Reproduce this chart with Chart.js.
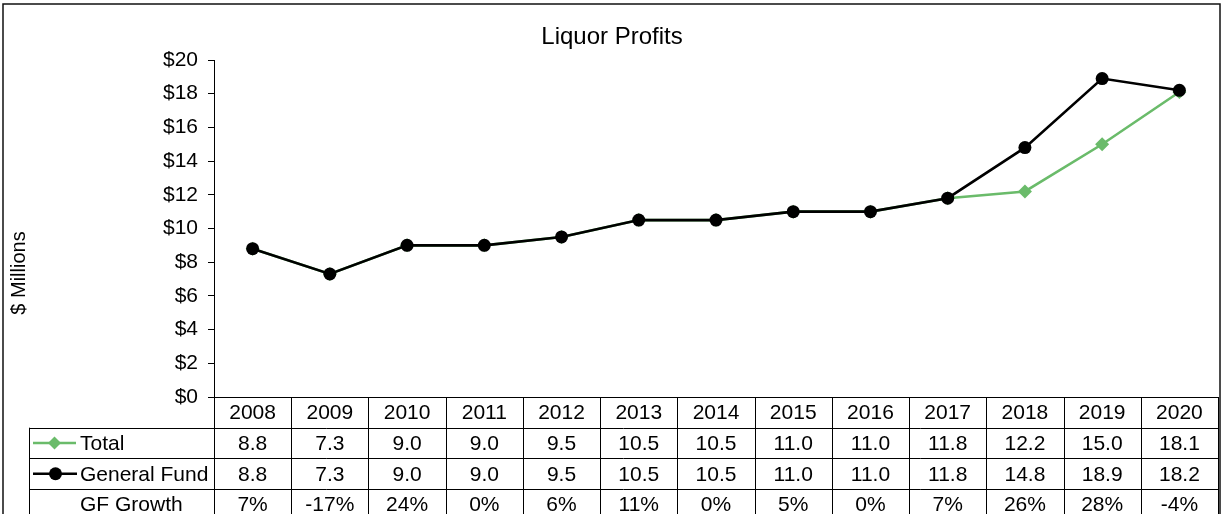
<!DOCTYPE html>
<html>
<head>
<meta charset="utf-8">
<title>Liquor Profits</title>
<script src="https://cdn.jsdelivr.net/npm/chart.js@4.4.1/dist/chart.umd.min.js"></script>
<style>
  html, body { margin: 0; padding: 0; background: #ffffff; }
  #wrap { position: relative; width: 1225px; height: 514px; }
</style>
</head>
<body>
<div id="wrap"><canvas id="chart" width="1225" height="514"></canvas></div>
<script>
// Liquor profits by fiscal year, $ millions
const years = ['2008', '2009', '2010', '2011', '2012', '2013', '2014', '2015', '2016', '2017', '2018', '2019', '2020'];
const totalProfits = [8.8, 7.3, 9.0, 9.0, 9.5, 10.5, 10.5, 11.0, 11.0, 11.8, 12.2, 15.0, 18.1];
const generalFund = [8.8, 7.3, 9.0, 9.0, 9.5, 10.5, 10.5, 11.0, 11.0, 11.8, 14.8, 18.9, 18.2];
const gfGrowth = ['7%', '-17%', '24%', '0%', '6%', '11%', '0%', '5%', '0%', '7%', '26%', '28%', '-4%'];
const yMin = 0;
const yMax = 20;
const yStep = 2;

const FONT = '"Liberation Sans", Arial, sans-serif';
const GREEN = '#6abb6a';
const BLACK = '#000000';

// Excel-style data table under the plot, plus frame, title and axis caption
const dataTablePlugin = {
    id: 'dataTable',
    afterDraw(chart) {
        const ctx = chart.ctx;
        const area = chart.chartArea;
        const xScale = chart.scales.x;
        const colW = (area.right - area.left) / years.length;
        const rowH = 30.7;
        const legendLeft = 29;
        const tableBottom = chart.height + 10;

        ctx.save();

        // outer frame
        ctx.strokeStyle = '#111';
        ctx.lineWidth = 1.5;
        ctx.strokeRect(3, 4, 1217, chart.height + 20);

        // title
        ctx.fillStyle = '#000';
        ctx.font = '24px ' + FONT;
        ctx.textAlign = 'center';
        ctx.textBaseline = 'middle';
        ctx.fillText('Liquor Profits', 612, 37);

        // y axis caption, centred on plot + table
        ctx.save();
        ctx.translate(19, 273);
        ctx.rotate(-Math.PI / 2);
        ctx.font = '20px ' + FONT;
        ctx.fillText('$ Millions', 0, 0);
        ctx.restore();

        // grid
        ctx.strokeStyle = '#000';
        ctx.lineWidth = 1;
        ctx.beginPath();
        ctx.moveTo(area.left, area.bottom + 0.5);
        ctx.lineTo(area.right, area.bottom + 0.5);
        for (let r = 1; r <= 3; r++) {
            const y = Math.round(area.bottom + r * rowH) + 0.5;
            ctx.moveTo(legendLeft, y);
            ctx.lineTo(area.right, y);
        }
        for (let i = 0; i <= years.length; i++) {
            const x = Math.round(xScale.getPixelForValue(i) - colW / 2) + 0.5;
            ctx.moveTo(x, area.bottom);
            ctx.lineTo(x, tableBottom);
        }
        ctx.moveTo(legendLeft + 0.5, area.bottom + rowH);
        ctx.lineTo(legendLeft + 0.5, tableBottom);
        ctx.stroke();

        // cell text
        ctx.font = '21px ' + FONT;
        ctx.textAlign = 'center';
        const rows = [
            years,
            totalProfits.map(v => v.toFixed(1)),
            generalFund.map(v => v.toFixed(1)),
            gfGrowth,
        ];
        rows.forEach((cells, r) => {
            const y = area.bottom + r * rowH + rowH / 2 + 1;
            cells.forEach((txt, i) => {
                ctx.fillText(txt, xScale.getPixelForValue(i), y);
            });
        });

        // row headers with series keys
        ctx.textAlign = 'left';
        const keyY1 = area.bottom + rowH * 1.5;
        const keyY2 = area.bottom + rowH * 2.5;

        ctx.lineWidth = 2.5;
        ctx.strokeStyle = GREEN;
        ctx.beginPath();
        ctx.moveTo(33, keyY1);
        ctx.lineTo(76, keyY1);
        ctx.stroke();
        ctx.fillStyle = GREEN;
        ctx.beginPath();
        ctx.moveTo(54.5, keyY1 - 6.5);
        ctx.lineTo(61, keyY1);
        ctx.lineTo(54.5, keyY1 + 6.5);
        ctx.lineTo(48, keyY1);
        ctx.closePath();
        ctx.fill();

        ctx.strokeStyle = BLACK;
        ctx.beginPath();
        ctx.moveTo(33, keyY2);
        ctx.lineTo(77, keyY2);
        ctx.stroke();
        ctx.fillStyle = BLACK;
        ctx.beginPath();
        ctx.arc(55.5, keyY2, 6.5, 0, Math.PI * 2);
        ctx.fill();

        ctx.fillStyle = '#000';
        ctx.fillText('Total', 80, keyY1 + 1);
        ctx.fillText('General Fund', 80, keyY2 + 1);
        ctx.fillText('GF Growth', 80, area.bottom + rowH * 3.5 + 1);

        ctx.restore();
    }
};

const ctx = document.getElementById('chart');

new Chart(ctx, {
    type: 'line',
    data: {
        labels: years,
        datasets: [
            {
                label: 'General Fund',
                data: generalFund,
                borderColor: BLACK,
                backgroundColor: BLACK,
                borderWidth: 2.6,
                pointStyle: 'circle',
                pointRadius: 6.5,
                pointBorderWidth: 0,
                tension: 0,
                order: 1,
            },
            {
                label: 'Total',
                data: totalProfits,
                borderColor: GREEN,
                backgroundColor: GREEN,
                borderWidth: 2.6,
                pointStyle: 'rectRot',
                pointRadius: 7,
                pointBorderWidth: 0,
                tension: 0,
                order: 2,
            },
        ],
    },
    options: {
        responsive: false,
        animation: false,
        devicePixelRatio: 1,
        layout: {
            padding: { top: 60, right: 5, bottom: 117, left: 0 },
        },
        plugins: {
            legend: { display: false },
            title: { display: false },
            tooltip: { enabled: false },
        },
        scales: {
            x: {
                type: 'category',
                display: false,
                offset: true,
            },
            y: {
                min: yMin,
                max: yMax,
                border: { color: '#000', width: 1 },
                grid: {
                    drawOnChartArea: false,
                    drawTicks: true,
                    tickLength: 6,
                    color: '#000',
                },
                ticks: {
                    stepSize: yStep,
                    color: '#000',
                    padding: 10,
                    font: { family: FONT, size: 21 },
                    callback: (v) => '$' + v,
                },
                afterFit(scale) {
                    scale.width = 214;
                },
            },
        },
    },
    plugins: [dataTablePlugin],
});
</script>
</body>
</html>
